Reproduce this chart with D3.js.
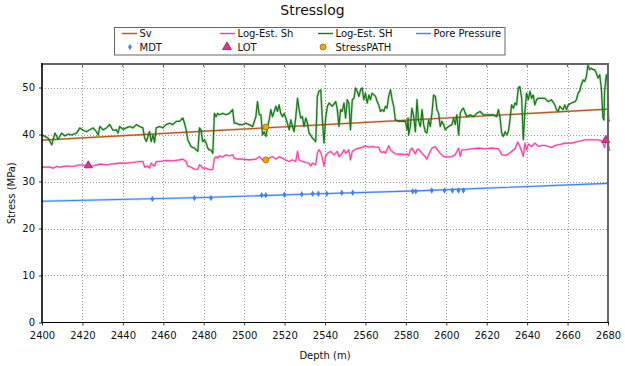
<!DOCTYPE html>
<html><head><meta charset="utf-8">
<script src="https://cdn.jsdelivr.net/npm/d3@7"></script>
<style>body{margin:0;background:#fff} svg{display:block;font-family:"DejaVu Sans",sans-serif}</style>
</head><body><svg id="c" width="625" height="366"></svg>
<script>
// ---------- data ----------
const xTicks = [2400,2420,2440,2460,2480,2500,2520,2540,2560,2580,2600,2620,2640,2660,2680];
const yTicks = [0,10,20,30,40,50];

const sv = [[2400,38.8],[2540,42.1],[2680,45.4]];

const porePressure = [[2400,25.8],[2480,26.6],[2530,27.3],[2585,28.0],[2680,29.6]];

const shMax = [ // Log-Est. SH (green)
[2400,39.9],[2401.5,39.6],[2403.1,39.2],[2404.8,37.8],[2406.4,40.3],[2408.0,39.0],[2409.7,40.3],[2411.3,39.7],
[2413.0,40.1],[2414.6,39.9],[2417.1,40.3],[2418.7,41.4],[2420.4,40.9],[2422.0,40.6],[2423.6,41.0],[2425.3,41.4],
[2426.9,40.6],[2427.8,39.9],[2428.6,41.7],[2430.2,41.0],[2431.9,41.4],[2433.5,42.1],[2435.1,40.9],[2436.8,41.0],
[2437.6,40.3],[2438.4,41.7],[2440.1,41.1],[2441.7,41.4],[2443.4,41.7],[2445.0,41.4],[2446.7,42.1],[2448.3,41.7],
[2449.9,41.4],[2450.8,39.2],[2451.6,38.5],[2453.2,40.6],[2454.0,38.5],[2454.9,39.9],[2455.7,38.3],[2456.5,41.4],
[2458.2,41.7],[2459.8,41.4],[2461.4,42.1],[2463.1,42.4],[2464.7,42.1],[2466.4,42.8],[2468.0,42.8],[2469.7,43.5],
[2470.5,42.4],[2471.3,41.0],[2472.1,38.9],[2473.8,37.4],[2475.4,37.1],[2477.1,36.4],[2477.9,41.4],[2478.7,41.0],
[2479.5,38.5],[2480.4,38.9],[2481.2,38.2],[2482.0,37.1],[2482.8,36.7],[2483.6,36.7],[2484.5,36.0],[2485.3,44.5],
[2486.1,43.8],[2486.9,44.5],[2487.7,44.2],[2489.4,44.5],[2491.0,44.2],[2492.7,44.5],[2494.3,45.3],[2495.1,42.4],
[2496.0,42.4],[2497.6,42.1],[2499.2,42.1],[2500.9,42.4],[2502.5,42.1],[2504.2,41.7],[2505.8,43.8],[2506.6,47.0],
[2507.5,44.2],[2508.3,44.2],[2509.1,39.9],[2509.9,40.6],[2510.8,39.6],[2511.6,41.7],[2512.4,43.1],[2513.2,45.3],
[2514.0,43.8],[2514.9,44.9],[2515.7,46.0],[2516.5,44.9],[2517.3,46.3],[2518.1,44.5],[2519.0,43.8],[2519.8,44.5],
[2520.6,43.5],[2521.4,42.4],[2522.3,41.0],[2523.1,43.1],[2523.9,41.7],[2524.7,40.6],[2525.5,43.5],[2526.4,47.7],
[2527.2,45.3],[2528.0,43.5],[2528.8,43.8],[2529.6,41.7],[2530.5,43.5],[2531.3,42.4],[2532.1,40.3],[2532.9,39.9],
[2533.8,39.2],[2534.6,38.9],[2535.4,38.5],[2535.7,41.7],[2536.2,48.1],[2537.0,49.2],[2537.9,49.5],[2538.7,43.1],
[2539.5,38.2],[2540.3,43.5],[2541.2,46.0],[2542.0,46.7],[2543.6,46.0],[2545.3,47.0],[2546.1,45.3],[2546.9,41.7],
[2547.7,45.3],[2548.5,44.9],[2549.4,46.7],[2550.2,43.5],[2551.0,47.4],[2551.8,46.7],[2552.6,41.0],[2553.5,47.4],
[2554.3,47.7],[2555.1,49.9],[2555.9,49.2],[2556.8,48.1],[2557.6,49.5],[2558.4,49.9],[2559.2,47.4],[2560.0,48.8],
[2560.9,46.7],[2561.7,48.4],[2562.5,47.4],[2563.3,48.8],[2565.0,48.1],[2565.8,47.0],[2566.6,46.3],[2567.4,44.9],
[2568.3,45.3],[2569.1,44.9],[2569.9,46.0],[2570.7,45.6],[2571.5,48.1],[2572.4,49.5],[2573.2,47.4],[2574.0,46.0],
[2574.8,43.1],[2576.5,42.8],[2578.1,42.8],[2579.8,42.8],[2580.6,41.0],[2581.1,43.5],[2581.4,39.9],[2582.2,41.7],
[2583.0,45.6],[2583.9,43.8],[2584.7,40.6],[2585.5,47.4],[2586.3,42.8],[2587.2,41.7],[2588.0,45.3],[2588.8,42.1],
[2589.6,40.6],[2590.4,40.3],[2591.3,43.1],[2592.1,41.7],[2592.9,44.5],[2593.7,48.4],[2594.6,48.1],[2595.4,45.3],
[2596.2,44.5],[2597.0,41.7],[2597.8,42.8],[2598.7,42.1],[2599.5,41.0],[2600.3,41.4],[2601.1,41.7],[2602.8,42.1],
[2603.6,43.5],[2604.4,42.1],[2605.2,44.2],[2606.1,39.9],[2606.9,44.5],[2607.7,45.3],[2608.5,45.6],[2609.3,44.6],
[2610.2,43.8],[2611.8,44.2],[2613.4,43.8],[2615.1,44.5],[2616.7,44.9],[2618.4,44.2],[2620.0,44.2],[2621.7,44.2],
[2623.3,44.2],[2624.9,43.8],[2625.8,45.3],[2626.6,43.5],[2627.4,40.3],[2628.2,39.6],[2629.1,40.6],[2629.9,39.9],
[2630.7,40.6],[2631.5,43.1],[2632.3,46.3],[2633.2,45.6],[2634.0,46.7],[2634.8,46.3],[2635.6,49.9],[2636.4,50.2],
[2637.3,47.7],[2638.1,38.9],[2638.9,44.9],[2639.7,48.8],[2640.6,47.4],[2641.4,49.2],[2642.2,47.7],[2643.0,48.4],
[2643.8,46.3],[2644.7,47.4],[2645.5,47.7],[2647.1,47.7],[2648.8,47.7],[2650.4,47.0],[2652.0,47.4],[2653.7,46.3],
[2654.5,45.3],[2655.3,44.9],[2656.2,46.0],[2657.0,45.6],[2657.8,45.3],[2658.6,46.3],[2659.5,45.3],[2660.3,46.3],
[2661.9,46.7],[2663.6,47.0],[2664.4,47.4],[2665.2,48.8],[2666.0,49.2],[2666.8,50.6],[2667.7,51.6],[2668.5,51.3],
[2669.3,52.3],[2670.1,54.8],[2670.9,53.8],[2671.8,54.1],[2672.6,53.8],[2673.4,53.8],[2674.2,53.1],[2675.1,52.0],
[2675.9,52.7],[2676.7,49.9],[2677.5,43.5],[2678.0,43.1],[2678.3,49.2],[2679.2,52.7],[2679.7,51.3],[2680.3,42.8],
[2680.8,43.1]];

const shMin = [ // Log-Est. Sh (pink)
[2400,33.05],[2403.9,33.05],[2405.6,32.84],[2407.2,33.2],[2408.9,33.05],[2412.1,33.3],[2415.4,33.2],[2418.7,33.55],
[2422.8,33.3],[2425.3,33.3],[2428.6,33.7],[2431.9,33.55],[2435.1,33.76],[2438.4,33.9],[2441.7,33.9],[2445.0,34.05],
[2448.3,34.26],[2449.9,34.26],[2450.8,33.05],[2452.4,33.3],[2453.2,32.84],[2454.0,33.9],[2454.9,33.55],[2455.7,33.3],
[2456.5,34.26],[2458.2,34.26],[2461.4,34.47],[2464.7,34.4],[2468.0,34.6],[2469.7,34.76],[2471.3,34.26],[2472.1,33.3],
[2473.8,33.05],[2475.4,32.6],[2477.1,32.6],[2477.9,33.55],[2478.7,33.3],[2479.5,32.84],[2481.2,32.84],[2482.8,32.49],
[2484.5,32.6],[2485.3,34.97],[2486.1,35.3],[2486.9,34.97],[2487.7,35.47],[2489.4,35.2],[2491.0,35.68],[2492.7,35.47],
[2494.3,35.68],[2495.1,34.97],[2496.8,34.76],[2499.2,34.76],[2502.5,34.6],[2505.8,34.76],[2507.5,35.3],[2509.1,34.6],
[2510.4,34.6],[2511.6,34.76],[2512.4,34.97],[2514.0,35.3],[2515.7,34.76],[2517.3,35.2],[2519.0,34.97],[2520.6,34.6],
[2522.3,34.26],[2523.9,34.6],[2525.5,34.26],[2526.4,36.39],[2527.2,34.6],[2528.8,34.26],[2530.5,34.05],[2532.1,33.9],
[2532.9,33.3],[2533.8,33.9],[2535.4,33.55],[2536.2,36.0],[2537.0,36.74],[2537.9,36.2],[2538.7,34.97],[2539.5,33.3],
[2540.3,35.3],[2541.2,36.0],[2542.8,36.39],[2544.4,35.68],[2546.1,36.39],[2546.9,35.3],[2547.7,35.68],[2548.5,36.0],
[2549.4,36.74],[2550.2,36.0],[2551.8,36.74],[2552.6,34.6],[2553.5,36.39],[2555.1,36.88],[2556.8,37.1],[2558.4,37.3],
[2560.0,37.59],[2561.7,37.3],[2563.3,37.45],[2565.0,37.3],[2566.6,37.3],[2567.4,36.39],[2568.3,36.17],[2569.1,36.39],
[2569.9,36.0],[2570.7,36.74],[2571.5,37.59],[2572.4,36.74],[2573.2,36.39],[2574.8,35.89],[2576.5,35.82],[2578.1,35.82],
[2579.8,35.68],[2580.6,35.89],[2581.4,35.47],[2582.2,36.74],[2583.0,37.1],[2584.7,35.89],[2585.5,36.74],[2586.3,36.88],
[2588.0,36.0],[2589.6,35.3],[2590.4,34.76],[2591.3,35.68],[2592.9,37.1],[2594.6,37.45],[2595.4,36.88],[2597.0,36.0],
[2598.7,35.3],[2600.3,35.2],[2602.8,35.3],[2604.4,35.68],[2606.1,37.1],[2606.9,35.33],[2607.7,36.75],[2609.3,36.75],
[2612.6,36.96],[2615.9,37.1],[2619.2,36.96],[2622.5,37.1],[2625.8,36.96],[2626.6,36.39],[2627.4,35.68],[2629.1,35.54],
[2630.7,35.83],[2632.3,36.39],[2634.0,36.96],[2635.3,38.38],[2636.4,37.46],[2637.3,36.39],[2638.1,35.33],[2638.9,38.17],
[2639.7,36.75],[2640.6,37.95],[2642.2,37.46],[2643.8,38.17],[2645.5,37.46],[2647.1,37.67],[2648.8,37.67],[2650.4,37.46],
[2652.1,37.24],[2653.7,37.67],[2655.3,37.81],[2657.0,37.95],[2658.6,38.17],[2661.9,38.17],[2665.2,38.52],[2666.8,38.66],
[2668.5,38.87],[2671.8,38.87],[2675.1,38.87],[2676.7,38.66],[2677.5,38.17],[2678.3,37.24],[2679.2,39.23],[2680.0,38.38],
[2680.8,36.53]];

const mdt = [[2454.6,26.3],[2475.4,26.5],[2483.6,26.5],[2508.7,27.1],[2510.7,27.1],[2519.9,27.2],[2528.5,27.3],
[2533.9,27.4],[2536.7,27.4],[2540.9,27.4],[2548.3,27.6],[2553.7,27.6],[2583.4,27.9],[2584.9,27.9],[2592.8,28.1],
[2599.1,28.1],[2603.0,28.1],[2606.0,28.1],[2608.5,28.1]];

const lot = [[2422.9,33.3],[2678.9,38.7]];
const stressPath = [[2510.7,41.6],[2510.7,34.6]];

const legendItems = ["Sv","Log-Est. Sh","Log-Est. SH","Pore Pressure","MDT","LOT","StressPATH"];

// ---------- drawing ----------
const C = {sv:"#b4581f", sh:"#ff3c9e", SH:"#157a15", pp:"#3f7fff", mdt:"#3f7fff",
           lot:"#e8318c", lotS:"#8e1a55", sp:"#f4a300", spS:"#a86a00"};
const svg = d3.select("#c");
const L = 42, R = 608, T = 64, B = 322.5;
const x = d3.scaleLinear().domain([2400,2680]).range([L,R]);
const y = d3.scaleLinear().domain([0,55]).range([B,T]);

svg.append("text").attr("x",312.5).attr("y",15).attr("text-anchor","middle")
  .attr("font-size",14).attr("fill","#111").text("Stresslog");

// grid
const g = svg.append("g").attr("stroke","#9a9a9a").attr("stroke-width",1).attr("stroke-dasharray","1,2");
g.selectAll(".vx").data(xTicks.filter(t=>t>2400&&t<2680)).join("line")
  .attr("x1",d=>Math.round(x(d))+0.5).attr("x2",d=>Math.round(x(d))+0.5).attr("y1",T).attr("y2",B);
g.selectAll(".hy").data(yTicks.filter(t=>t>0)).join("line")
  .attr("y1",d=>Math.round(y(d))+0.5).attr("y2",d=>Math.round(y(d))+0.5).attr("x1",L).attr("x2",R);

// axes
const xa = svg.append("g").attr("transform",`translate(0,${B})`)
  .call(d3.axisBottom(x).tickValues(xTicks).tickSize(3).tickPadding(6).tickFormat(d3.format("d")));
const ya = svg.append("g").attr("transform",`translate(${L},0)`)
  .call(d3.axisLeft(y).tickValues(yTicks).tickSize(3).tickPadding(4));
[xa,ya].forEach(a=>{a.select(".domain").remove();
  a.selectAll("text").attr("font-size",10).attr("font-family","DejaVu Sans").attr("fill","#111");
  a.selectAll("line").attr("stroke","#333");});
// top inward ticks
svg.append("g").selectAll("line").data(xTicks).join("line")
  .attr("x1",d=>x(d)).attr("x2",d=>x(d)).attr("y1",T).attr("y2",T+3).attr("stroke","#555");

// lines
const line = d3.line().x(d=>x(d[0])).y(d=>y(d[1]));
function drawLine(data,color,w){
  svg.append("path").datum(data).attr("d",line).attr("fill","none").attr("stroke",color)
    .attr("stroke-width",w+1.2).attr("stroke-opacity",0.3).attr("stroke-linejoin","round");
  svg.append("path").datum(data).attr("d",line).attr("fill","none").attr("stroke",color)
    .attr("stroke-width",w).attr("stroke-linejoin","round");
}
drawLine(porePressure,C.pp,1.1);
drawLine(shMin,C.sh,1.1);
drawLine(sv,C.sv,1.2);
drawLine(shMax,C.SH,1.2);

// markers
svg.append("g").selectAll("path").data(mdt).join("path")
  .attr("transform",d=>`translate(${x(d[0])},${y(d[1])})`)
  .attr("d",d3.symbol(d3.symbolDiamond,12)).attr("fill",C.mdt);
svg.append("g").selectAll("path").data(lot).join("path")
  .attr("transform",d=>`translate(${x(d[0])},${y(d[1])-0.5})`)
  .attr("d",d3.symbol(d3.symbolTriangle,28)).attr("fill",C.lot).attr("stroke",C.lotS).attr("stroke-width",0.8);
svg.append("g").selectAll("circle").data(stressPath).join("circle")
  .attr("cx",d=>x(d[0])).attr("cy",d=>y(d[1])).attr("r",3)
  .attr("fill",C.sp).attr("stroke",C.spS).attr("stroke-width",0.8);

// frame
svg.append("line").attr("x1",L).attr("x2",R).attr("y1",T).attr("y2",T).attr("stroke","#666").attr("stroke-width",2);
svg.append("line").attr("x1",R).attr("x2",R).attr("y1",T-1).attr("y2",B).attr("stroke","#666").attr("stroke-width",2);
svg.append("line").attr("x1",L).attr("x2",L).attr("y1",T-1).attr("y2",B+0.5).attr("stroke","#000").attr("stroke-width",1.6);
svg.append("line").attr("x1",L).attr("x2",R+1).attr("y1",B).attr("y2",B).attr("stroke","#000").attr("stroke-width",1.2);

// axis titles
svg.append("text").attr("x",(L+R)/2).attr("y",359).attr("text-anchor","middle")
  .attr("font-size",10).attr("fill","#111").text("Depth (m)");
svg.append("text").attr("transform",`translate(15,${(T+B)/2}) rotate(-90)`).attr("text-anchor","middle")
  .attr("font-size",10).attr("fill","#111").text("Stress (MPa)");

// legend
const lg = svg.append("g");
lg.append("rect").attr("x",114.5).attr("y",27.5).attr("width",390.5).attr("height",27.5)
  .attr("fill","#fff").attr("stroke","#666").attr("stroke-width",1);
const colX = [122,220,318,416];
const rowY = [33.5,47];
const lineCols = [C.sv,C.sh,C.SH,C.pp];
for(let i=0;i<4;i++){
  lg.append("line").attr("x1",colX[i]).attr("x2",colX[i]+15).attr("y1",rowY[0]).attr("y2",rowY[0])
    .attr("stroke",lineCols[i]).attr("stroke-width",1.4);
  lg.append("text").attr("x",colX[i]+17.5).attr("y",rowY[0]+3.6).attr("font-size",10).attr("fill","#111").text(legendItems[i]);
}
lg.append("path").attr("transform",`translate(${colX[0]+8},${rowY[1]})`).attr("d",d3.symbol(d3.symbolDiamond,12)).attr("fill",C.mdt);
lg.append("path").attr("transform",`translate(${colX[1]+7},${rowY[1]})`).attr("d",d3.symbol(d3.symbolTriangle,34))
  .attr("fill",C.lot).attr("stroke",C.lotS).attr("stroke-width",0.8);
lg.append("circle").attr("cx",colX[2]+5).attr("cy",rowY[1]).attr("r",3).attr("fill",C.sp).attr("stroke",C.spS).attr("stroke-width",0.8);
for(let i=0;i<3;i++){
  lg.append("text").attr("x",colX[i]+17.5).attr("y",rowY[1]+3.6).attr("font-size",10).attr("fill","#111").text(legendItems[4+i]);
}
</script></body></html>
